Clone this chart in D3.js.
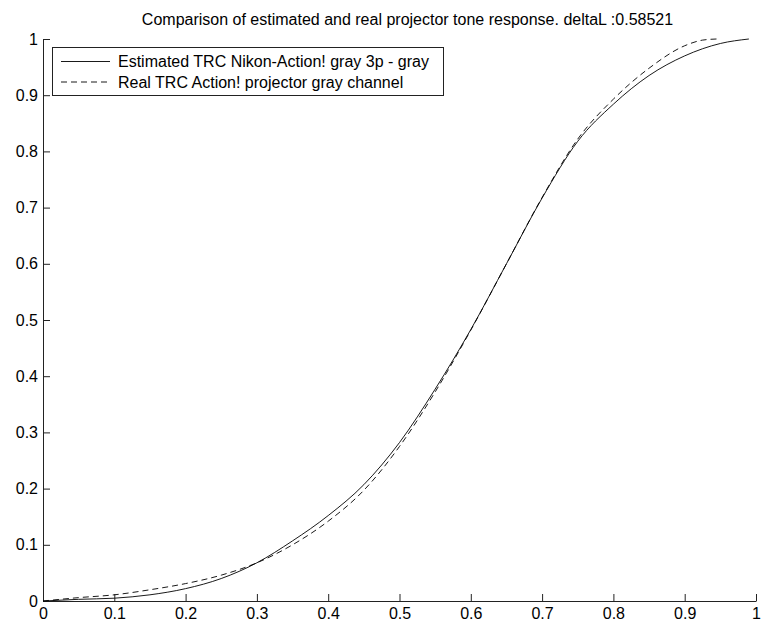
<!DOCTYPE html>
<html>
<head>
<meta charset="utf-8">
<script src="https://cdn.jsdelivr.net/npm/d3@7"></script>
<style>
  body { margin: 0; background: #fff; }
  text { font-family: "Liberation Sans", Arial, sans-serif; }
</style>
</head>
<body>
<div id="chart"></div>
<script>
// Estimated TRC (solid)
const estX = [0, 0.05, 0.1, 0.15, 0.2, 0.25, 0.3, 0.35, 0.4, 0.45, 0.5, 0.55, 0.6, 0.65, 0.7, 0.75, 0.8, 0.85, 0.9, 0.95, 0.99];
const estY = [0, 0.003, 0.005, 0.011, 0.022, 0.04, 0.068, 0.107, 0.152, 0.207, 0.282, 0.377, 0.483, 0.6, 0.717, 0.818, 0.884, 0.935, 0.97, 0.992, 1.0];

// Real TRC (dashed)
const realX = [0, 0.05, 0.1, 0.15, 0.2, 0.25, 0.3, 0.35, 0.4, 0.45, 0.5, 0.55, 0.6, 0.65, 0.7, 0.75, 0.8, 0.85, 0.9, 0.925, 0.945];
const realY = [0, 0.006, 0.011, 0.02, 0.031, 0.046, 0.068, 0.1, 0.142, 0.197, 0.275, 0.372, 0.482, 0.6, 0.718, 0.822, 0.893, 0.948, 0.988, 0.998, 1.0];

const xTicks = [0, 0.1, 0.2, 0.3, 0.4, 0.5, 0.6, 0.7, 0.8, 0.9, 1];
const yTicks = [0, 0.1, 0.2, 0.3, 0.4, 0.5, 0.6, 0.7, 0.8, 0.9, 1];

const legendLabels = ["Estimated TRC Nikon-Action! gray 3p - gray", "Real TRC Action! projector gray channel"];
const title = "Comparison of estimated and real projector tone response. deltaL :0.58521";

const W = 762, H = 628;
const margin = { top: 39, right: 6, bottom: 27, left: 43 };
const width = W - margin.left - margin.right;
const height = H - margin.top - margin.bottom;

const svg = d3.select("#chart")
    .append("svg")
    .attr("width", W)
    .attr("height", H);

const g = svg.append("g")
    .attr("transform", `translate(${margin.left},${margin.top})`);

const x = d3.scaleLinear().domain([0, 1]).range([0, width]);
const y = d3.scaleLinear().domain([0, 1]).range([height, 0]);

// axes, ticks pointing inward
const xAxis = g.append("g")
    .attr("transform", `translate(0,${height})`)
    .call(d3.axisBottom(x).tickValues(xTicks).tickFormat(d => String(d))
        .tickSizeInner(-7).tickSizeOuter(0).tickPadding(7));

const yAxis = g.append("g")
    .call(d3.axisLeft(y).tickValues(yTicks).tickFormat(d => String(d))
        .tickSizeInner(-7).tickSizeOuter(0).tickPadding(5));

[xAxis, yAxis].forEach(a => {
    a.selectAll("text").attr("font-size", "16px").attr("fill", "#000")
        .attr("font-family", "'Liberation Sans', Arial, sans-serif");
    a.selectAll("line").attr("stroke", "#222");
    a.select(".domain").attr("stroke", "#222");
});

const line = d3.line()
    .x(d => x(d[0]))
    .y(d => y(d[1]))
    .curve(d3.curveMonotoneX);

g.append("path")
    .datum(estX.map((v, i) => [v, estY[i]]))
    .attr("fill", "none")
    .attr("stroke", "#000")
    .attr("stroke-width", 0.9)
    .attr("d", line);

g.append("path")
    .datum(realX.map((v, i) => [v, realY[i]]))
    .attr("fill", "none")
    .attr("stroke", "#000")
    .attr("stroke-width", 0.9)
    .attr("stroke-dasharray", "6,4")
    .attr("d", line);

// title
svg.append("text")
    .attr("x", margin.left + width / 2 + 8)
    .attr("y", 25)
    .attr("text-anchor", "middle")
    .attr("font-size", "16px")
    .text(title);

// legend
const legend = svg.append("g").attr("transform", "translate(52,47)");
legend.append("rect")
    .attr("x", 0.5).attr("y", 0.5)
    .attr("width", 391).attr("height", 48)
    .attr("fill", "#fff")
    .attr("stroke", "#222");

legendLabels.forEach((label, i) => {
    const ly = 14.5 + i * 20.5;
    legend.append("line")
        .attr("x1", 9).attr("x2", 58)
        .attr("y1", ly).attr("y2", ly)
        .attr("stroke", "#000")
        .attr("stroke-width", 0.9)
        .attr("stroke-dasharray", i === 1 ? "6,4" : null);
    legend.append("text")
        .attr("x", 66)
        .attr("y", ly + 5.5)
        .attr("font-size", "16px")
        .text(label);
});
</script>
</body>
</html>
